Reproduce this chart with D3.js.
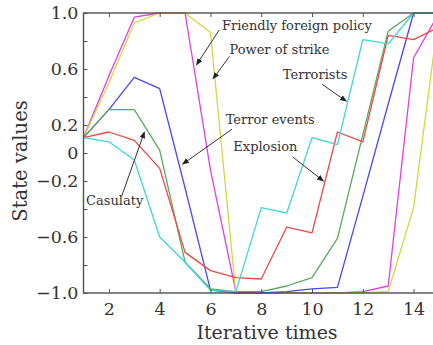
<!DOCTYPE html>
<html>
<head>
<meta charset="utf-8">
<script src="https://cdn.jsdelivr.net/npm/d3@7"></script>
<style>
  html, body { margin: 0; padding: 0; background: #fff; }
  svg { display: block; }
  text { font-family: "DejaVu Serif", "Liberation Serif", serif; fill: #333; }
</style>
</head>
<body>
<svg id="chart" width="433" height="345"></svg>
<script>
// ---- data ----
const iterations = [1, 2, 3, 4, 5, 6, 7, 8, 9, 10, 11, 12, 13, 14, 15];
const friendlyForeignPolicy = [0.11, 0.55, 0.97, 1.0, 1.0, -0.12, -0.99, -1.0, -1.0, -1.0, -1.0, -0.99, -0.95, 0.68, 1.0];
const powerOfStrike         = [0.11, 0.50, 0.93, 1.0, 1.0, 0.86, -1.0, -1.0, -1.0, -1.0, -1.0, -1.0, -0.99, -0.39, 1.0];
const terrorEvents          = [0.11, 0.31, 0.54, 0.46, -0.25, -0.98, -1.0, -1.0, -0.99, -0.97, -0.96, -0.31, 0.35, 1.0, 1.0];
const casulaty              = [0.11, 0.31, 0.31, 0.02, -0.78, -0.97, -0.99, -0.99, -0.95, -0.89, -0.61, 0.13, 0.87, 1.0, 1.0];
const explosion             = [0.11, 0.15, 0.09, -0.11, -0.71, -0.84, -0.89, -0.90, -0.53, -0.57, 0.15, 0.08, 0.84, 0.81, 0.90];
const terrorists            = [0.11, 0.08, -0.05, -0.60, -0.78, -0.98, -0.99, -0.39, -0.43, 0.11, 0.06, 0.81, 0.78, 1.0, 1.0];

const seriesNames = ["Friendly foreign policy", "Power of strike", "Terror events", "Casulaty", "Explosion", "Terrorists"];
const seriesValues = [friendlyForeignPolicy, powerOfStrike, terrorEvents, casulaty, explosion, terrorists];
const seriesColors = ["#e040e0", "#d6d640", "#4848ec", "#5aa85a", "#ec4848", "#40d4d4"];

const xTicks = [2, 4, 6, 8, 10, 12, 14];
const yTicks = [-1.0, -0.8, -0.6, -0.4, -0.2, 0, 0.2, 0.4, 0.6, 0.8, 1.0];
const yTickLabels = {"1": "1.0", "0.6": "0.6", "0.2": "0.2", "0": "0", "-0.2": "\u22120.2", "-0.6": "\u22120.6", "-1": "\u22121.0"};

// annotations: label, text position, arrow start, arrow target (in data coords)
const annotations = [
  {label: "Friendly foreign policy", tx: 6.45, ty: 0.88, from: [6.35, 0.88], to: [5.45, 0.63]},
  {label: "Power of strike",         tx: 6.75, ty: 0.71, from: [6.75, 0.69], to: [6.1, 0.53]},
  {label: "Terrorists",              tx: 8.85, ty: 0.53, from: [10.4, 0.49], to: [11.35, 0.37]},
  {label: "Terror events",           tx: 6.6,  ty: 0.21, from: [6.85, 0.17], to: [4.9, -0.08]},
  {label: "Explosion",               tx: 6.9,  ty: 0.015, from: [9.25, -0.03], to: [10.45, -0.20]},
  {label: "Casulaty",                tx: 1.1,  ty: -0.37, from: [2.5, -0.31], to: [3.4, 0.15]}
];

// ---- layout ----
const svg = d3.select("#chart");
const x = d3.scaleLinear().domain([1, 15]).range([83.5, 439]);
const y = d3.scaleLinear().domain([-1, 1]).range([293, 13]);
const axisColor = "#505050";

// defs: arrowhead
svg.append("defs").append("marker")
  .attr("id", "arrow").attr("viewBox", "0 0 10 10")
  .attr("refX", 9).attr("refY", 5)
  .attr("markerWidth", 7).attr("markerHeight", 7)
  .attr("markerUnits", "userSpaceOnUse")
  .attr("orient", "auto")
  .append("path").attr("d", "M0,1 L10,5 L0,9 Z").attr("fill", "#222");

// lines
const line = d3.line().x((d, i) => x(iterations[i])).y(d => y(d));
svg.append("g").selectAll("path").data(seriesValues).join("path")
  .attr("d", d => line(d))
  .attr("fill", "none")
  .attr("stroke", (d, i) => seriesColors[i])
  .attr("stroke-width", 1.3)
  .attr("stroke-linejoin", "round");

// frame
svg.append("rect")
  .attr("x", x(1)).attr("y", y(1))
  .attr("width", x(15) - x(1)).attr("height", y(-1) - y(1))
  .attr("fill", "none").attr("stroke", axisColor).attr("stroke-width", 1.4);

// axes
const fmtY = v => { const k = String(Math.round(v * 10) / 10); return yTickLabels[k] !== undefined ? yTickLabels[k] : ""; };

const gx = svg.append("g").attr("transform", `translate(0,${y(-1)})`)
  .call(d3.axisBottom(x).tickValues(xTicks).tickSize(-4).tickPadding(10).tickFormat(d3.format("d")));
const gxTop = svg.append("g").attr("transform", `translate(0,${y(1)})`)
  .call(d3.axisTop(x).tickValues(xTicks).tickSize(-4).tickFormat(""));
const gy = svg.append("g").attr("transform", `translate(${x(1)},0)`)
  .call(d3.axisLeft(y).tickValues(yTicks).tickSize(-4).tickPadding(5).tickFormat(fmtY));

[gx, gxTop, gy].forEach(g => {
  g.select(".domain").remove();
  g.selectAll(".tick line").attr("stroke", axisColor).attr("stroke-width", 1);
  g.selectAll(".tick text").attr("fill", "#333").style("font-size", "17.5px")
    .style("font-family", '"DejaVu Serif", serif');
});

// axis titles
svg.append("text")
  .attr("x", 267).attr("y", 339)
  .attr("text-anchor", "middle")
  .style("font-size", "19px")
  .text("Iterative times");

svg.append("text")
  .attr("transform", "translate(27,161) rotate(-90)")
  .attr("text-anchor", "middle")
  .style("font-size", "19.5px")
  .text("State values");

// annotations
const ag = svg.append("g");
annotations.forEach(a => {
  ag.append("line")
    .attr("x1", x(a.from[0])).attr("y1", y(a.from[1]))
    .attr("x2", x(a.to[0])).attr("y2", y(a.to[1]))
    .attr("stroke", "#333").attr("stroke-width", 1)
    .attr("marker-end", "url(#arrow)");
  ag.append("text")
    .attr("x", x(a.tx)).attr("y", y(a.ty))
    .style("font-size", "13px")
    .text(a.label);
});
</script>
</body>
</html>
